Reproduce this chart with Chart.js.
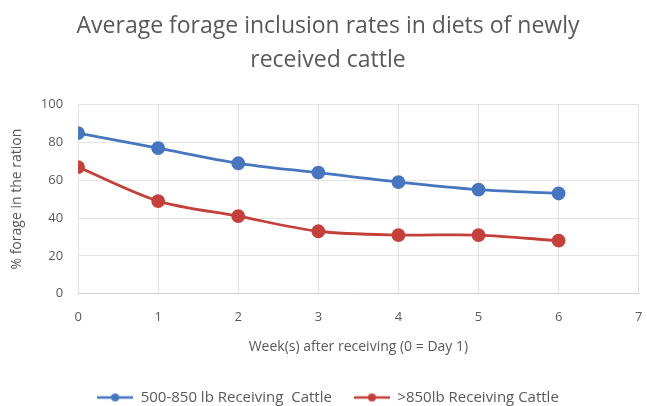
<!DOCTYPE html>
<html>
<head>
<meta charset="utf-8">
<script src="https://cdn.jsdelivr.net/npm/chart.js@4/dist/chart.umd.min.js"></script>
<style>
  html, body { margin: 0; padding: 0; background: #fff; }
  #wrap { width: 647px; height: 406px; }
</style>
</head>
<body>
<div id="wrap"><canvas id="grafico"></canvas></div>
<script>
// dados
const semanas = [0, 1, 2, 3, 4, 5, 6];
const leves = [85, 77, 69, 64, 59, 55, 53];      // 500-850 lb
const pesados = [67, 49, 41, 33, 31, 31, 28];    // >850 lb
const nomes = ['500-850 lb Receiving  Cattle', '>850lb Receiving Cattle'];
const titulo = ['Average forage inclusion rates in diets of newly', 'received cattle'];

const azul = '#4676C0';
const vermelho = '#C4403A';
const cinza = '#595959';
const fonte = "'Open Sans', 'Liberation Sans', sans-serif";

// marcador da legenda: linha com bolinha no meio
function marcador(cor) {
    const c = document.createElement('canvas');
    c.width = 36; c.height = 10;
    const ctx = c.getContext('2d');
    ctx.strokeStyle = cor;
    ctx.lineWidth = 2.5;
    ctx.beginPath();
    ctx.moveTo(0, 5); ctx.lineTo(36, 5);
    ctx.stroke();
    ctx.fillStyle = cor;
    ctx.beginPath();
    ctx.arc(18, 5, 4, 0, Math.PI * 2);
    ctx.fill();
    return c;
}

function pontos(valores) {
    let lista = [];
    for (let i = 0; i < semanas.length; i++) {
        lista.push({ x: semanas[i], y: valores[i] });
    }
    return lista;
}

const dados = {
    datasets: [{
        label: nomes[0],
        data: pontos(leves),
        borderColor: azul,
        backgroundColor: azul,
        borderWidth: 2.8,
        pointRadius: 5.5,
        pointHoverRadius: 5.5,
        tension: 0.3
    }, {
        label: nomes[1],
        data: pontos(pesados),
        borderColor: vermelho,
        backgroundColor: vermelho,
        borderWidth: 2.8,
        pointRadius: 5.5,
        pointHoverRadius: 5.5,
        tension: 0.3
    }]
};

const imgs = [marcador(azul), marcador(vermelho)];

const config = {
    type: 'line',
    data: dados,
    options: {
        responsive: true,
        maintainAspectRatio: false,
        animation: false,
        layout: { padding: { left: 9, right: 0, top: 8, bottom: -9 } },
        plugins: {
            title: {
                display: true,
                text: titulo,
                color: cinza,
                font: { family: fonte, size: 23, weight: 'normal', lineHeight: 1.45 },
                padding: { top: 2, bottom: 28 }
            },
            legend: {
                position: 'bottom',
                labels: {
                    color: cinza,
                    font: { family: fonte, size: 15 },
                    usePointStyle: true,
                    pointStyleWidth: 36,
                    boxHeight: 10,
                    padding: 22,
                    generateLabels: function (chart) {
                        return chart.data.datasets.map(function (ds, i) {
                            return {
                                text: ds.label,
                                pointStyle: imgs[i],
                                fontColor: cinza,
                                datasetIndex: i,
                                hidden: false,
                                lineWidth: 0
                            };
                        });
                    }
                }
            },
            tooltip: { enabled: false }
        },
        scales: {
            x: {
                type: 'linear',
                min: 0,
                max: 7,
                afterFit: function (scale) { scale.paddingRight = 0; },
                ticks: { stepSize: 1, color: cinza, font: { family: fonte, size: 13 }, padding: 16 },
                grid: { color: '#e3e3e3', drawTicks: false },
                border: { color: '#d0d0d0' },
                title: {
                    display: true,
                    text: 'Week(s) after receiving (0 = Day 1)',
                    color: cinza,
                    font: { family: fonte, size: 14 },
                    padding: { top: -3, bottom: 13 }
                }
            },
            y: {
                min: 0,
                max: 100,
                ticks: { stepSize: 20, color: cinza, font: { family: fonte, size: 13 }, padding: 15 },
                grid: { color: '#e3e3e3', drawTicks: false },
                border: { display: false },
                title: {
                    display: true,
                    text: '% forage in the ration',
                    color: cinza,
                    font: { family: fonte, size: 14 },
                    padding: { top: 0, bottom: 0 }
                }
            }
        }
    }
};

let meuGrafico = new Chart(document.getElementById('grafico'), config);
</script>
</body>
</html>
